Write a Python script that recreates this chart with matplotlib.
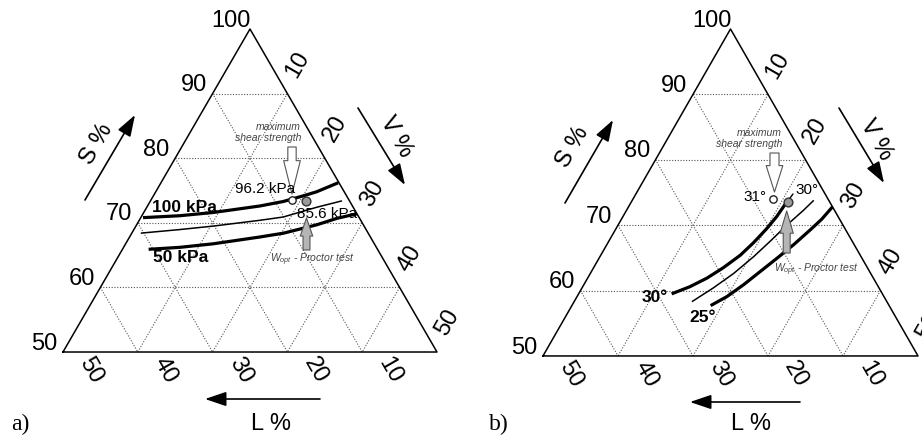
import numpy as np
import matplotlib.pyplot as plt

plt.rcParams['font.family'] = ['Liberation Sans', 'DejaVu Sans']
plt.rcParams['mathtext.fontset'] = 'custom'
plt.rcParams['mathtext.it'] = 'Liberation Sans:italic'
plt.rcParams['mathtext.rm'] = 'Liberation Sans'

# tick values of the three axes (S from 50 to 100, L and V from 0 to 50)
s_ticks = [50, 60, 70, 80, 90, 100]
v_ticks = [10, 20, 30, 40, 50]
l_ticks = [50, 40, 30, 20, 10]
grid_vals = [10, 20, 30, 40]

# panel a: shear strength contours, given as S % and V % (L % = 100 - S - V)
a_100kpa_s = [70.8, 71.1, 71.6, 72.6, 73.3, 74.2, 74.8, 76.2]
a_100kpa_v = [0.3, 5.1, 9.3, 15.0, 17.8, 20.1, 21.5, 23.7]
a_mid_s = [68.4, 68.95, 69.5, 70.4, 70.9, 72.4, 73.4]
a_mid_v = [1.2, 6.1, 10.4, 16.2, 19.0, 22.7, 25.6]
a_50kpa_s = [65.9, 66.2, 66.75, 67.8, 68.4, 69.7, 70.7, 71.4]
a_50kpa_v = [3.5, 7.5, 11.7, 17.4, 20.3, 24.1, 26.3, 28.6]
a_max_point = (73.6, 18.8)      # 96.2 kPa, maximum shear strength
a_proctor_point = (73.4, 20.8)  # 85.6 kPa, w_opt Proctor test

# panel b: friction angle contours
b_30deg_s = [59.5, 60.6, 61.9, 63.5, 65.4, 67.3, 69.5, 71.3, 73.3]
b_30deg_v = [12.4, 14.3, 15.9, 17.3, 18.6, 19.4, 20.1, 20.5, 20.7]
b_mid_s = [58.3, 60.4, 62.6, 65.2, 67.5, 70.0, 72.3, 73.8]
b_mid_v = [15.7, 17.5, 19.1, 20.5, 21.5, 22.5, 23.6, 24.2]
b_25deg_s = [57.7, 59.1, 60.9, 62.9, 64.9, 67.0, 69.3, 70.9, 72.8]
b_25deg_v = [18.5, 20.0, 21.3, 22.5, 23.7, 24.9, 26.0, 26.7, 27.2]
b_max_point = (74.0, 18.6)      # 31 deg
b_proctor_point = (73.6, 20.8)  # 30 deg

W, H = 922, 441


def tern(s, v):
    s = np.asarray(s, dtype=float)
    v = np.asarray(v, dtype=float)
    return v + (s - 50) / 2, (s - 50) * np.sqrt(3) / 2


def fpx(x, y):
    # pixel position in the picture -> figure fraction
    return (x / W, 1 - y / H)


def draw_triangle(ax):
    x, y = tern([50, 50, 100, 50], [0, 50, 0, 0])
    ax.plot(x, y, color='black', lw=1.1, zorder=3)
    grid_kw = dict(color='#555555', lw=0.8, ls=(0, (1, 1.5)), zorder=1)
    for g in grid_vals:
        s = 100 - g
        # constant S
        gx, gy = tern([s, s], [0, 100 - s])
        ax.plot(gx, gy, **grid_kw)
        # constant V
        gx, gy = tern([100 - g, 50], [g, g])
        ax.plot(gx, gy, **grid_kw)
        # constant L
        gx, gy = tern([100 - g, 50], [0, 50 - g])
        ax.plot(gx, gy, **grid_kw)

    for s in s_ticks:
        px, py = tern(s, 0)
        ax.annotate(str(s), (px, py), xytext=(-13.5, 6), textcoords='offset points',
                    ha='center', va='center', fontsize=17)
    for v in v_ticks:
        px, py = tern(100 - v, v)
        ax.annotate(str(v), (px, py), xytext=(7.2, 21), textcoords='offset points',
                    ha='center', va='center', fontsize=17, rotation=60,
                    annotation_clip=False)
    for l in l_ticks:
        px, py = tern(50, 50 - l)
        ax.annotate(str(l), (px, py), xytext=(20, -13), textcoords='offset points',
                    ha='center', va='center', fontsize=17, rotation=-60)


def curve(ax, s, v, lw):
    ax.plot(*tern(s, v), color='black', lw=lw, zorder=4,
            solid_joinstyle='round', solid_capstyle='butt')


def axis_arrow(ax, tail, tip):
    ax.annotate('', xy=fpx(*tip), xycoords='figure fraction',
                xytext=fpx(*tail), textcoords='figure fraction',
                arrowprops=dict(arrowstyle='-|>,head_length=0.65,head_width=0.22',
                                color='black', lw=1.2, mutation_scale=20,
                                shrinkA=0, shrinkB=0))


def block_arrow(ax, tail, tip, fc, hl, hw, tw):
    ax.annotate('', xy=fpx(*tip), xycoords='figure fraction',
                xytext=fpx(*tail), textcoords='figure fraction',
                arrowprops=dict(arrowstyle='simple,head_length=%g,head_width=%g,tail_width=%g'
                                % (hl, hw, tw),
                                fc=fc, ec='#555555', lw=0.8, mutation_scale=10,
                                shrinkA=0, shrinkB=0), zorder=5)


fig = plt.figure(figsize=(W / 100, H / 100), dpi=100)

# ---------------- panel a ----------------
ax = fig.add_axes([0, 0, 0.5, 1])
ax.set_xlim(-8.42, 53.21)
ax.set_ylim(-11.93, 47.19)
ax.axis('off')
draw_triangle(ax)

curve(ax, a_100kpa_s, a_100kpa_v, 2.3)
curve(ax, a_mid_s, a_mid_v, 1.1)
curve(ax, a_50kpa_s, a_50kpa_v, 2.3)
ax.plot(*tern(*a_max_point), 'o', mfc='white', mec='#222222', ms=5.3, mew=1.0, zorder=6)
ax.plot(*tern(*a_proctor_point), 'o', mfc='#9a9a9a', mec='#333333', ms=6.3, mew=1.0, zorder=6)

block_arrow(ax, (292, 147), (292, 194), 'white', 2.4, 1.2, 0.6)
block_arrow(ax, (306.5, 250), (306.5, 218), '#b5b5b5', 1.3, 0.9, 0.5)

fig.text(*fpx(278, 127), 'maximum', fontsize=7.5, style='italic', color='#444444',
         ha='center', va='center')
fig.text(*fpx(268, 138), 'shear strength', fontsize=7.5, style='italic', color='#444444',
         ha='center', va='center')
fig.text(*fpx(265.5, 189), '96.2 kPa', fontsize=11, ha='center', va='center')
fig.text(*fpx(327.5, 214), '85.6 kPa', fontsize=11, ha='center', va='center')
fig.text(*fpx(184, 207), '100 kPa', fontsize=12.5, fontweight='bold', ha='center', va='center')
fig.text(*fpx(181, 257.5), '50 kPa', fontsize=12.5, fontweight='bold', ha='center', va='center')
fig.text(*fpx(312, 259.5), r'$W_{opt}$ - Proctor test', fontsize=7.5, style='italic',
         color='#444444', ha='center', va='center')

axis_arrow(ax, (85, 200), (135, 115))
axis_arrow(ax, (358, 108), (405, 185))
axis_arrow(ax, (320, 399), (205, 399))
fig.text(*fpx(97, 144), 'S %', fontsize=17, rotation=60, ha='center', va='center')
fig.text(*fpx(396, 137), 'V %', fontsize=17, rotation=-60, ha='center', va='center')
fig.text(*fpx(271, 424), 'L %', fontsize=17, ha='center', va='center')
fig.text(*fpx(20, 424), 'a)', fontsize=17, family='Liberation Serif', ha='center', va='center')

# ---------------- panel b ----------------
bx = fig.add_axes([0.5, 0, 0.5, 1])
bx.set_xlim(-10.93, 50.53)
bx.set_ylim(-11.26, 47.14)
bx.axis('off')
draw_triangle(bx)

curve(bx, b_30deg_s, b_30deg_v, 2.3)
curve(bx, b_mid_s, b_mid_v, 1.1)
curve(bx, b_25deg_s, b_25deg_v, 2.3)
bx.plot(*tern(*b_max_point), 'o', mfc='white', mec='#222222', ms=5.3, mew=1.0, zorder=6)
bx.plot(*tern(*b_proctor_point), 'o', mfc='#9a9a9a', mec='#333333', ms=6.3, mew=1.0, zorder=6)
bx.annotate('', xy=fpx(787, 202), xycoords='figure fraction',
            xytext=fpx(793, 194), textcoords='figure fraction',
            arrowprops=dict(arrowstyle='-', color='black', lw=1.0, shrinkA=0, shrinkB=0))

block_arrow(bx, (774.5, 153), (774.5, 192), 'white', 1.9, 1.2, 0.65)
block_arrow(bx, (786.7, 253), (786.7, 211), '#b5b5b5', 1.6, 0.95, 0.5)

fig.text(*fpx(759, 133), 'maximum', fontsize=7.5, style='italic', color='#444444',
         ha='center', va='center')
fig.text(*fpx(749, 144), 'shear strength', fontsize=7.5, style='italic', color='#444444',
         ha='center', va='center')
fig.text(*fpx(755, 197), '31°', fontsize=11, ha='center', va='center')
fig.text(*fpx(807, 190), '30°', fontsize=11, ha='center', va='center')
fig.text(*fpx(655, 298), '30°', fontsize=12.5, fontweight='bold', ha='center', va='center')
fig.text(*fpx(703, 317), '25°', fontsize=12.5, fontweight='bold', ha='center', va='center')
fig.text(*fpx(816, 269.5), r'$W_{opt}$ - Proctor test', fontsize=7.5, style='italic',
         color='#444444', ha='center', va='center')

axis_arrow(bx, (565, 203), (613, 120))
axis_arrow(bx, (839, 108), (884, 183))
axis_arrow(bx, (800, 402), (690, 402))
fig.text(*fpx(573, 147), 'S %', fontsize=17, rotation=60, ha='center', va='center')
fig.text(*fpx(876, 140), 'V %', fontsize=17, rotation=-60, ha='center', va='center')
fig.text(*fpx(751, 424), 'L %', fontsize=17, ha='center', va='center')
fig.text(*fpx(499, 424), 'b)', fontsize=17, family='Liberation Serif', ha='center', va='center')

fig.savefig('out.png', dpi=100)
